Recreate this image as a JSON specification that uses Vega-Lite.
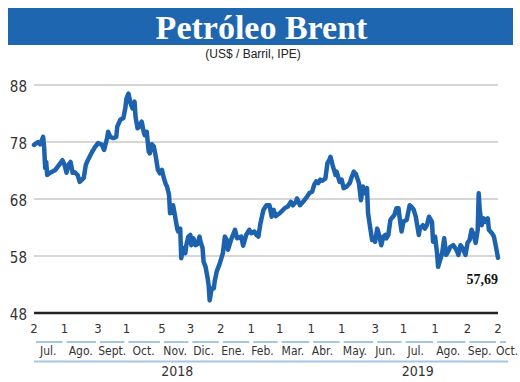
{
  "$schema": "https://vega.github.io/schema/vega-lite/v6.json",
  "padding": {"left": 8, "top": 8, "right": 0, "bottom": 0},
  "background": "white",
  "spacing": 0,
  "bounds": "flush",
  "config": {"view": {"stroke": null}},
  "datasets": {
    "precios": [
      {"date":"2018-07-02","price":77.5},{"date":"2018-07-06","price":78.0},{"date":"2018-07-08","price":77.6},{"date":"2018-07-11","price":78.9},{"date":"2018-07-12","price":77.0},{"date":"2018-07-13","price":73.4},{"date":"2018-07-14","price":74.5},{"date":"2018-07-15","price":72.2},{"date":"2018-07-18","price":72.6},{"date":"2018-07-23","price":73.1},{"date":"2018-07-28","price":74.3},{"date":"2018-07-30","price":74.8},
      {"date":"2018-08-01","price":74.0},{"date":"2018-08-03","price":72.6},{"date":"2018-08-05","price":74.0},{"date":"2018-08-07","price":74.5},{"date":"2018-08-09","price":72.6},{"date":"2018-08-11","price":72.7},{"date":"2018-08-14","price":72.2},{"date":"2018-08-16","price":71.0},{"date":"2018-08-20","price":71.7},{"date":"2018-08-22","price":74.0},{"date":"2018-08-24","price":74.8},{"date":"2018-08-28","price":76.2},{"date":"2018-08-31","price":77.1},
      {"date":"2018-09-03","price":77.8},{"date":"2018-09-07","price":77.5},{"date":"2018-09-09","price":76.6},{"date":"2018-09-12","price":78.7},{"date":"2018-09-13","price":79.8},{"date":"2018-09-15","price":78.9},{"date":"2018-09-18","price":78.7},{"date":"2018-09-21","price":78.9},{"date":"2018-09-22","price":80.7},{"date":"2018-09-25","price":81.9},{"date":"2018-09-28","price":82.2},{"date":"2018-09-30","price":84.0},
      {"date":"2018-10-01","price":85.6},{"date":"2018-10-03","price":86.5},{"date":"2018-10-05","price":84.8},{"date":"2018-10-07","price":83.9},{"date":"2018-10-09","price":85.1},{"date":"2018-10-10","price":82.4},{"date":"2018-10-12","price":80.4},{"date":"2018-10-14","price":80.7},{"date":"2018-10-16","price":81.6},{"date":"2018-10-18","price":79.8},{"date":"2018-10-19","price":79.2},{"date":"2018-10-21","price":79.8},{"date":"2018-10-23","price":76.3},{"date":"2018-10-24","price":76.0},{"date":"2018-10-26","price":77.6},{"date":"2018-10-28","price":77.2},{"date":"2018-10-30","price":75.4},
      {"date":"2018-11-01","price":73.1},{"date":"2018-11-03","price":72.5},{"date":"2018-11-05","price":73.1},{"date":"2018-11-07","price":71.6},{"date":"2018-11-09","price":70.5},{"date":"2018-11-10","price":70.2},{"date":"2018-11-12","price":68.7},{"date":"2018-11-13","price":65.5},{"date":"2018-11-15","price":65.8},{"date":"2018-11-16","price":66.9},{"date":"2018-11-18","price":64.9},{"date":"2018-11-20","price":62.8},{"date":"2018-11-21","price":62.3},{"date":"2018-11-23","price":62.8},{"date":"2018-11-24","price":57.6},{"date":"2018-11-26","price":59.4},{"date":"2018-11-28","price":58.5},{"date":"2018-11-29","price":59.9},
      {"date":"2018-12-01","price":61.4},{"date":"2018-12-03","price":61.7},{"date":"2018-12-04","price":59.9},{"date":"2018-12-06","price":61.1},{"date":"2018-12-08","price":59.9},{"date":"2018-12-10","price":60.1},{"date":"2018-12-12","price":61.4},{"date":"2018-12-13","price":60.5},{"date":"2018-12-15","price":59.4},{"date":"2018-12-16","price":57.0},{"date":"2018-12-18","price":56.1},{"date":"2018-12-20","price":54.1},{"date":"2018-12-21","price":52.9},{"date":"2018-12-22","price":50.2},{"date":"2018-12-24","price":52.3},{"date":"2018-12-26","price":52.3},{"date":"2018-12-27","price":53.6},{"date":"2018-12-29","price":55.3},
      {"date":"2019-01-01","price":56.7},{"date":"2019-01-04","price":58.5},{"date":"2019-01-06","price":61.4},{"date":"2019-01-08","price":60.8},{"date":"2019-01-09","price":59.1},{"date":"2019-01-12","price":60.8},{"date":"2019-01-14","price":61.7},{"date":"2019-01-16","price":62.6},{"date":"2019-01-18","price":61.1},{"date":"2019-01-22","price":61.4},{"date":"2019-01-24","price":59.8},{"date":"2019-01-27","price":61.7},{"date":"2019-01-30","price":62.6},
      {"date":"2019-02-01","price":62.0},{"date":"2019-02-04","price":62.3},{"date":"2019-02-06","price":61.7},{"date":"2019-02-08","price":61.4},{"date":"2019-02-10","price":63.7},{"date":"2019-02-13","price":66.1},{"date":"2019-02-16","price":66.9},{"date":"2019-02-19","price":66.9},{"date":"2019-02-21","price":64.9},{"date":"2019-02-23","price":66.1},{"date":"2019-02-25","price":65.0},
      {"date":"2019-03-01","price":65.5},{"date":"2019-03-06","price":66.4},{"date":"2019-03-09","price":66.7},{"date":"2019-03-12","price":67.5},{"date":"2019-03-14","price":66.9},{"date":"2019-03-17","price":67.5},{"date":"2019-03-18","price":68.1},{"date":"2019-03-21","price":66.9},{"date":"2019-03-24","price":67.5},{"date":"2019-03-28","price":68.4},{"date":"2019-03-30","price":69.0},
      {"date":"2019-04-02","price":69.3},{"date":"2019-04-04","price":70.5},{"date":"2019-04-06","price":71.1},{"date":"2019-04-08","price":70.8},{"date":"2019-04-10","price":71.4},{"date":"2019-04-12","price":71.2},{"date":"2019-04-15","price":71.6},{"date":"2019-04-17","price":74.3},{"date":"2019-04-19","price":74.9},{"date":"2019-04-20","price":75.4},{"date":"2019-04-22","price":74.0},{"date":"2019-04-25","price":72.2},{"date":"2019-04-26","price":72.8},{"date":"2019-04-29","price":71.0},
      {"date":"2019-05-01","price":71.4},{"date":"2019-05-03","price":69.9},{"date":"2019-05-06","price":70.2},{"date":"2019-05-09","price":70.8},{"date":"2019-05-11","price":71.9},{"date":"2019-05-13","price":72.8},{"date":"2019-05-15","price":72.4},{"date":"2019-05-18","price":70.8},{"date":"2019-05-20","price":67.8},{"date":"2019-05-22","price":70.2},{"date":"2019-05-24","price":69.0},{"date":"2019-05-26","price":69.9},{"date":"2019-05-27","price":65.5},{"date":"2019-05-29","price":63.1},{"date":"2019-05-31","price":60.8},
      {"date":"2019-06-01","price":61.1},{"date":"2019-06-03","price":60.5},{"date":"2019-06-05","price":62.8},{"date":"2019-06-06","price":62.3},{"date":"2019-06-08","price":60.8},{"date":"2019-06-09","price":59.9},{"date":"2019-06-11","price":61.4},{"date":"2019-06-13","price":61.7},{"date":"2019-06-14","price":61.1},{"date":"2019-06-16","price":61.7},{"date":"2019-06-18","price":64.3},{"date":"2019-06-19","price":64.6},{"date":"2019-06-22","price":65.2},{"date":"2019-06-24","price":66.4},{"date":"2019-06-26","price":66.4},{"date":"2019-06-27","price":64.9},{"date":"2019-06-29","price":62.3},
      {"date":"2019-07-01","price":64.1},{"date":"2019-07-04","price":64.3},{"date":"2019-07-07","price":66.9},{"date":"2019-07-09","price":66.6},{"date":"2019-07-11","price":66.1},{"date":"2019-07-13","price":64.9},{"date":"2019-07-16","price":61.7},{"date":"2019-07-17","price":62.8},{"date":"2019-07-20","price":63.4},{"date":"2019-07-22","price":62.8},{"date":"2019-07-24","price":63.4},{"date":"2019-07-26","price":64.9},{"date":"2019-07-29","price":64.0},{"date":"2019-07-30","price":60.5},
      {"date":"2019-08-01","price":61.4},{"date":"2019-08-03","price":58.5},{"date":"2019-08-04","price":56.1},{"date":"2019-08-06","price":57.3},{"date":"2019-08-08","price":58.5},{"date":"2019-08-10","price":61.1},{"date":"2019-08-12","price":58.2},{"date":"2019-08-14","price":58.8},{"date":"2019-08-16","price":59.6},{"date":"2019-08-19","price":59.9},{"date":"2019-08-22","price":59.1},{"date":"2019-08-24","price":58.2},{"date":"2019-08-26","price":59.9},{"date":"2019-08-28","price":59.4},{"date":"2019-08-31","price":58.2},
      {"date":"2019-09-02","price":60.3},{"date":"2019-09-04","price":60.8},{"date":"2019-09-06","price":62.6},{"date":"2019-09-08","price":61.7},{"date":"2019-09-10","price":60.3},{"date":"2019-09-12","price":62.6},{"date":"2019-09-13","price":69.0},{"date":"2019-09-14","price":66.1},{"date":"2019-09-16","price":63.4},{"date":"2019-09-18","price":64.6},{"date":"2019-09-20","price":64.0},{"date":"2019-09-22","price":64.6},{"date":"2019-09-23","price":62.6},{"date":"2019-09-26","price":62.0},{"date":"2019-09-28","price":61.4},{"date":"2019-09-30","price":59.6},
      {"date":"2019-10-02","price":57.69}
    ],
    "meses": [
      {"start":"2018-07-02","end":"2018-08-01","mid":"2018-07-16","day":"2","month":"Jul."},
      {"start":"2018-08-01","end":"2018-09-03","mid":"2018-08-17","day":"1","month":"Ago."},
      {"start":"2018-09-03","end":"2018-10-01","mid":"2018-09-17","day":"3","month":"Sept."},
      {"start":"2018-10-01","end":"2018-11-05","mid":"2018-10-18","day":"1","month":"Oct."},
      {"start":"2018-11-05","end":"2018-12-03","mid":"2018-11-18","day":"5","month":"Nov."},
      {"start":"2018-12-03","end":"2019-01-02","mid":"2018-12-16","day":"3","month":"Dic."},
      {"start":"2019-01-02","end":"2019-02-01","mid":"2019-01-14","day":"2","month":"Ene."},
      {"start":"2019-02-01","end":"2019-03-01","mid":"2019-02-12","day":"1","month":"Feb."},
      {"start":"2019-03-01","end":"2019-04-01","mid":"2019-03-14","day":"1","month":"Mar."},
      {"start":"2019-04-01","end":"2019-05-01","mid":"2019-04-12","day":"1","month":"Abr."},
      {"start":"2019-05-01","end":"2019-06-03","mid":"2019-05-14","day":"1","month":"May."},
      {"start":"2019-06-03","end":"2019-07-01","mid":"2019-06-13","day":"3","month":"Jun."},
      {"start":"2019-07-01","end":"2019-08-01","mid":"2019-07-13","day":"1","month":"Jul."},
      {"start":"2019-08-01","end":"2019-09-02","mid":"2019-08-14","day":"1","month":"Ago."},
      {"start":"2019-09-02","end":"2019-10-02","mid":"2019-09-14","day":"2","month":"Sep."},
      {"start":"2019-10-02","end":"2019-10-12","mid":"2019-10-11","day":"2","month":"Oct."}
    ]
  },
  "vconcat": [
    {
      "width": 505,
      "height": 37,
      "view": {"fill": "#1f66b0", "stroke": null},
      "data": {"values": [{"titulo": "Petróleo Brent"}]},
      "mark": {"type": "text", "color": "white", "font": "Liberation Serif", "fontWeight": "bold", "fontSize": 34, "align": "center", "baseline": "middle", "dy": 2, "dx": 1},
      "encoding": {"text": {"field": "titulo"}}
    },
    {
      "width": 490,
      "height": 268,
      "title": {"text": "(US$ / Barril, IPE)", "font": "Liberation Sans", "fontSize": 12, "fontWeight": "normal", "color": "#222", "anchor": "middle", "offset": -16},
      "layer": [
        {
          "data": {"values": [{"v": 88}, {"v": 78}, {"v": 68}, {"v": 58}]},
          "mark": {"type": "rule", "color": "#d6d6d6", "strokeWidth": 2},
          "encoding": {
            "y": {"field": "v", "type": "quantitative", "scale": {"domain": [48, 95.02], "nice": false, "zero": false}, "axis": null},
            "x": {"datum": {"year": 2018, "month": 7, "date": 2, "utc": true}, "type": "temporal", "scale": {"domain": [{"year": 2018, "month": 6, "date": 6, "hours": 9, "utc": true}, {"year": 2019, "month": 10, "date": 2, "utc": true}], "nice": false}, "axis": null},
            "x2": {"datum": {"year": 2019, "month": 10, "date": 2, "utc": true}}
          }
        },
        {
          "data": {"values": [{"v": 48}]},
          "mark": {"type": "rule", "color": "#222222", "strokeWidth": 2.5},
          "encoding": {
            "y": {"field": "v", "type": "quantitative", "axis": null},
            "x": {"datum": {"year": 2018, "month": 7, "date": 2, "utc": true}, "type": "temporal", "axis": null},
            "x2": {"datum": {"year": 2019, "month": 10, "date": 2, "utc": true}}
          }
        },
        {
          "data": {"values": [{"v": 88}, {"v": 78}, {"v": 68}, {"v": 58}, {"v": 48}]},
          "mark": {"type": "text", "font": "Liberation Sans Narrow, DejaVu Sans Condensed, sans-serif", "fontSize": 15, "color": "#333", "align": "right", "baseline": "middle", "dx": -7, "dy": 2},
          "encoding": {
            "y": {"field": "v", "type": "quantitative", "axis": null},
            "x": {"datum": {"year": 2018, "month": 7, "date": 2, "utc": true}, "type": "temporal", "axis": null},
            "text": {"field": "v", "type": "quantitative"}
          }
        },
        {
          "data": {"name": "precios"},
          "mark": {"type": "line", "color": "#1c62ae", "strokeWidth": 4.5, "strokeJoin": "round", "strokeCap": "round"},
          "encoding": {
            "x": {"field": "date", "type": "temporal", "axis": null},
            "y": {"field": "price", "type": "quantitative", "axis": null}
          }
        },
        {
          "data": {"values": [{"date": "2019-10-02", "price": 57.69, "label": "57,69"}]},
          "mark": {"type": "text", "font": "Liberation Serif", "fontWeight": "bold", "fontSize": 14, "align": "right", "baseline": "middle", "dy": 22, "color": "#111"},
          "encoding": {
            "x": {"field": "date", "type": "temporal", "axis": null},
            "y": {"field": "price", "type": "quantitative", "axis": null},
            "text": {"field": "label"}
          }
        }
      ]
    },
    {
      "width": 490,
      "height": 69,
      "layer": [
        {
          "data": {"name": "meses"},
          "mark": {"type": "rule", "color": "#a6c6e6", "strokeWidth": 2, "xOffset": 2, "x2Offset": -2, "yOffset": 17.5},
          "encoding": {
            "x": {"field": "start", "type": "temporal", "scale": {"domain": [{"year": 2018, "month": 6, "date": 6, "hours": 9, "utc": true}, {"year": 2019, "month": 10, "date": 2, "utc": true}], "nice": false}, "axis": null},
            "x2": {"field": "end"},
            "y": {"datum": "dia", "type": "nominal", "scale": {"domain": ["dia", "mes", "anio"], "paddingInner": 0, "paddingOuter": 0}, "axis": null}
          }
        },
        {
          "data": {"name": "meses"},
          "mark": {"type": "text", "font": "Liberation Sans Narrow, DejaVu Sans Condensed, sans-serif", "fontSize": 13, "color": "#333", "baseline": "middle", "dy": 4},
          "encoding": {
            "x": {"field": "start", "type": "temporal"},
            "y": {"datum": "dia", "type": "nominal"},
            "text": {"field": "day"}
          }
        },
        {
          "data": {"name": "meses"},
          "mark": {"type": "text", "font": "Liberation Sans Narrow, DejaVu Sans Condensed, sans-serif", "fontSize": 12, "color": "#333", "baseline": "middle", "dy": 3.5},
          "encoding": {
            "x": {"field": "mid", "type": "temporal"},
            "y": {"datum": "mes", "type": "nominal"},
            "text": {"field": "month"}
          }
        },
        {
          "data": {"values": [{"from": "2018-07-02", "to": "2019-10-12"}]},
          "mark": {"type": "rule", "color": "#a6c6e6", "strokeWidth": 2, "yOffset": 14},
          "encoding": {
            "x": {"field": "from", "type": "temporal"},
            "x2": {"field": "to"},
            "y": {"datum": "mes", "type": "nominal"}
          }
        },
        {
          "data": {"values": [{"year": "2018", "at": "2018-11-20"}, {"year": "2019", "at": "2019-07-15"}]},
          "mark": {"type": "text", "font": "Liberation Sans Narrow, DejaVu Sans Condensed, sans-serif", "fontSize": 14, "color": "#333", "baseline": "middle", "dy": 1.5},
          "encoding": {
            "x": {"field": "at", "type": "temporal"},
            "y": {"datum": "anio", "type": "nominal"},
            "text": {"field": "year"}
          }
        }
      ]
    }
  ]
}
